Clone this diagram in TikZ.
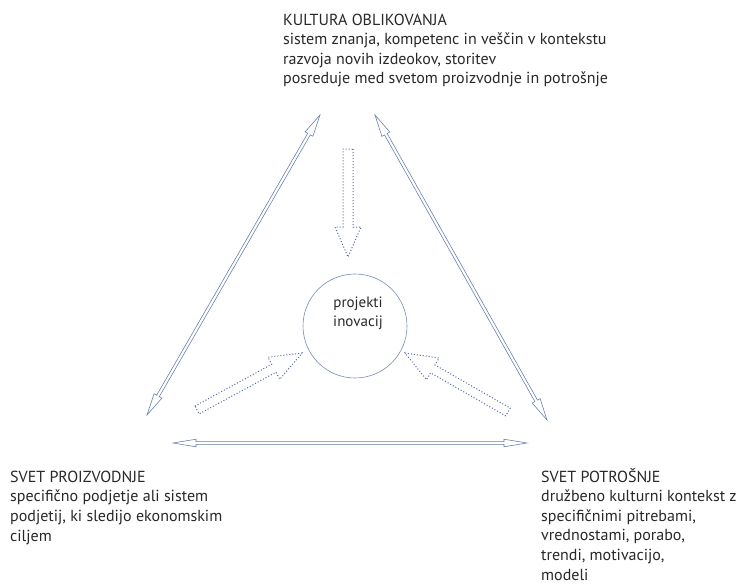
\documentclass[tikz,border=0pt]{standalone}
\usepackage{fontspec}
\setmainfont{PT Sans}
\usetikzlibrary{calc}
\definecolor{linkblue}{RGB}{96,122,172}
\definecolor{dotblue}{RGB}{86,104,166}
\definecolor{ringblue}{RGB}{120,140,182}
\definecolor{labelgray}{RGB}{40,40,40}

\newcommand{\bothheads}[6][]{%
\draw[#1] (#2) -- ($(#2)!#6!(#3)!#5!90:(#3)$) -- ($(#2)!#6!(#3)!#4!90:(#3)$)
 -- ($(#3)!#6!(#2)!#4!-90:(#2)$) -- ($(#3)!#6!(#2)!#5!-90:(#2)$) -- (#3)
 -- ($(#3)!#6!(#2)!#5!90:(#2)$) -- ($(#3)!#6!(#2)!#4!90:(#2)$)
 -- ($(#2)!#6!(#3)!#4!-90:(#3)$) -- ($(#2)!#6!(#3)!#5!-90:(#3)$) -- cycle;}
\newcommand{\onehead}[6][]{%
\draw[#1] ($(#2)!#4!90:(#3)$) -- ($(#3)!#6!(#2)!#4!-90:(#2)$) -- ($(#3)!#6!(#2)!#5!-90:(#2)$)
 -- (#3) -- ($(#3)!#6!(#2)!#5!90:(#2)$) -- ($(#3)!#6!(#2)!#4!90:(#2)$)
 -- ($(#2)!#4!-90:(#3)$) -- cycle;}

\begin{document}
\begin{tikzpicture}[x=1pt,y=-1pt,
  blocktext/.style={anchor=base west,align=left,inner sep=0,text=labelgray,font=\fontsize{16}{19.6}\selectfont},
  thinarrow/.style={draw=linkblue,line width=0.55pt,line join=miter},
  dotarrow/.style={draw=dotblue,line width=1pt,dash pattern=on 1pt off 2pt}]
\useasboundingbox (0,0) rectangle (743,583);

\node[blocktext] (kultura) at (283,84) {KULTURA OBLIKOVANJA\\sistem znanja, kompetenc in veščin v kontekstu\\razvoja novih izdeokov, storitev\\posreduje med svetom proizvodnje in potrošnje};
\node[blocktext] (proizvodnja) at (10,541) {SVET PROIZVODNJE\\specifično podjetje ali sistem\\podjetij, ki sledijo ekonomskim\\ciljem};
\node[blocktext] (potrosnja) at (541,580) {SVET POTROŠNJE\\družbeno kulturni kontekst z\\specifičnimi pitrebami,\\vrednostami, porabo,\\trendi, motivacijo,\\modeli};
\node[circle,draw=ringblue,line width=0.6pt,minimum size=104pt,inner sep=0] (projekti) at (355,326) {};
\node[align=center,inner sep=0,text=labelgray,font=\fontsize{15}{19}\selectfont] (inovacije) at ($(projekti.center)+(3,-13)$) {projekti\\inovacij};

\coordinate (kl) at (320,115);
\coordinate (pl) at (147,415);
\coordinate (kr) at (375,115);
\coordinate (pr) at (547,420);
\coordinate (ph) at (173,443);
\coordinate (rh) at (527,443);
\coordinate (kd) at (348,149);
\coordinate (kt) at (348,257);
\coordinate (pd) at (197,410);
\coordinate (pt) at (302,353);
\coordinate (rd) at (508,412);
\coordinate (rt) at (405,353);

\bothheads[thinarrow]{pl}{kl}{1.5pt}{4.5pt}{22pt}
\bothheads[thinarrow]{pr}{kr}{1.5pt}{4.5pt}{22pt}
\bothheads[thinarrow]{ph}{rh}{1.3pt}{3.8pt}{23pt}

\onehead[dotarrow]{kd}{kt}{5pt}{13pt}{30pt}
\onehead[dotarrow]{pd}{pt}{4.5pt}{12.5pt}{32pt}
\onehead[dotarrow]{rd}{rt}{4.5pt}{12.5pt}{32pt}
\end{tikzpicture}
\end{document}
